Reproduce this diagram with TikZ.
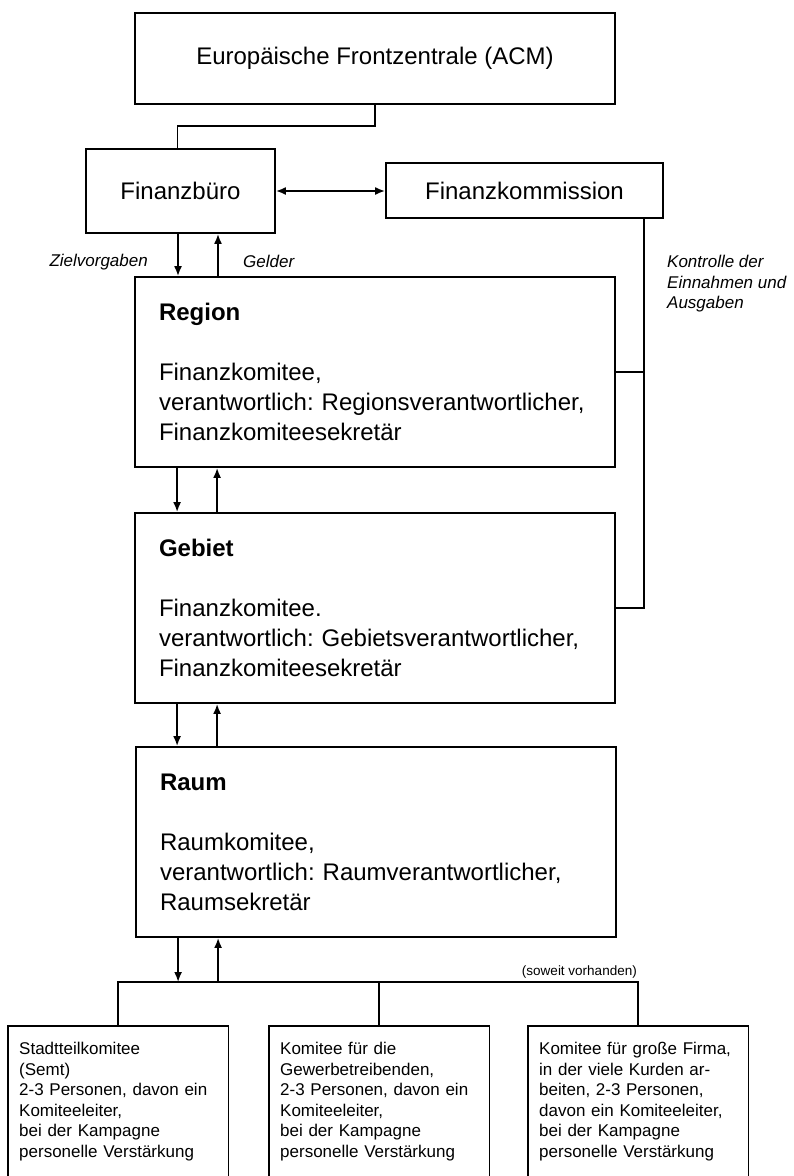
\documentclass[tikz,border=0pt]{standalone}
\usepackage{fontspec}
\setmainfont{Liberation Sans}
\usetikzlibrary{arrows.meta,positioning}
\frenchspacing

\tikzset{
  frame/.style={draw, line width=1.8pt},
  tip/.style={line width=1.8pt, -{Latex[length=10pt,width=8pt]}},
  twotip/.style={line width=1.8pt, {Latex[length=10pt,width=8pt]}-{Latex[length=10pt,width=8pt]}},
  bigfont/.style={font=\fontsize{24}{30}\selectfont},
  level/.style={frame, bigfont, minimum width=480pt, minimum height=190pt,
    text width=432pt, inner xsep=24pt, align=left},
  unit/.style={anchor=north west, text width=198pt, inner xsep=11pt, inner ysep=16pt,
    align=left, font=\fontsize{17}{20.6}\selectfont},
  note/.style={font=\fontsize{17}{20.5}\selectfont\itshape, inner sep=0pt},
}

\begin{document}
\begin{tikzpicture}[x=1pt,y=-1pt]
	\useasboundingbox (0,0) rectangle (793,1176);
	% oben
	\node[frame, bigfont, minimum width=480pt, minimum height=91pt] (acm) at (375,58.5) {Europäische Frontzentrale (ACM)};
	\node[frame, bigfont, minimum width=189pt, minimum height=84pt] (buero) at (180.5,191) {Finanzbüro};
	\node[frame, bigfont, minimum width=277pt, minimum height=55pt] (komm) at (524.5,190.5) {Finanzkommission};
	% ebenen
	\node[level] (region) at (375,372) {\textbf{Region}\\[30pt]Finanzkomitee,\\verantwortlich: Regionsverantwortlicher,\\Finanzkomiteesekretär};
	\node[level] (gebiet) at (375,608) {\textbf{Gebiet}\\[30pt]Finanzkomitee.\\verantwortlich: Gebietsverantwortlicher,\\Finanzkomiteesekretär};
	\node[level] (raum) at (376,842) {\textbf{Raum}\\[30pt]Raumkomitee,\\verantwortlich: Raumverantwortlicher,\\Raumsekretär};
	% komitees
	\node[unit] (s1) at (8,1026) {Stadtteilkomitee\\(Semt)\\2-3 Personen, davon ein\\Komiteeleiter,\\bei der Kampagne\\personelle Verstärkung};
	\node[unit] (s2) at (269,1026) {Komitee für die\\Gewerbetreibenden,\\2-3 Personen, davon ein\\Komiteeleiter,\\bei der Kampagne\\personelle Verstärkung};
	\node[unit] (s3) at (528,1026) {Komitee für große Firma,\\in der viele Kurden ar-\\beiten, 2-3 Personen,\\davon ein Komiteeleiter,\\bei der Kampagne\\personelle Verstärkung};
	\foreach \s in {s1,s2,s3}
		\draw[frame] (\s.north west) rectangle (\s.north east |- 0,1200);
	% texte
	\node[note, anchor=east] (ziel) at (148,262) {Zielvorgaben};
	\node[note, anchor=west] (geld) at (243,261) {Gelder};
	\node[note, anchor=north west, align=left] (kontr) at (667,255) {Kontrolle der\\Einnahmen und\\Ausgaben};
	\node[font=\fontsize{13.5}{15}\selectfont, anchor=east, inner sep=0pt] (soweit) at (637,972) {(soweit vorhanden)};
	% linien
	\draw[frame] (acm.south) -- ++(0,21) -| ([xshift=-3pt]buero.north);
	\draw[twotip] (buero.east) -- (buero.east -| komm.west);
	\coordinate (ctl) at ([xshift=-20pt]komm.south east);
	\draw[frame] (ctl) |- (gebiet.east);
	\draw[frame] (region.east) -- (region.east -| ctl);
	\draw[tip] ([xshift=-2.5pt]buero.south) -- ([xshift=-2.5pt]buero.south |- region.north);
	\draw[tip] ([xshift=37.5pt]buero.south |- region.north) -- ([xshift=37.5pt]buero.south);
	\draw[tip] ([xshift=43pt]region.south west) -- ([xshift=43pt]region.south west |- gebiet.north);
	\draw[tip] ([xshift=83pt]region.south west |- gebiet.north) -- ([xshift=83pt]region.south west);
	\draw[tip] ([xshift=43pt]gebiet.south west) -- ([xshift=43pt]gebiet.south west |- raum.north);
	\draw[tip] ([xshift=83pt]gebiet.south west |- raum.north) -- ([xshift=83pt]gebiet.south west);
	\coordinate (bus) at (0,982);
	\draw[tip] ([xshift=43pt]raum.south west) -- ([xshift=43pt]raum.south west |- bus);
	\draw[tip] ([xshift=83pt]raum.south west |- bus) -- ([xshift=83pt]raum.south west);
	\draw[frame] (s1.north) |- (bus -| s3.north) -- (s3.north);
	\draw[frame] (s2.north) -- (s2.north |- bus);
\end{tikzpicture}
\end{document}
